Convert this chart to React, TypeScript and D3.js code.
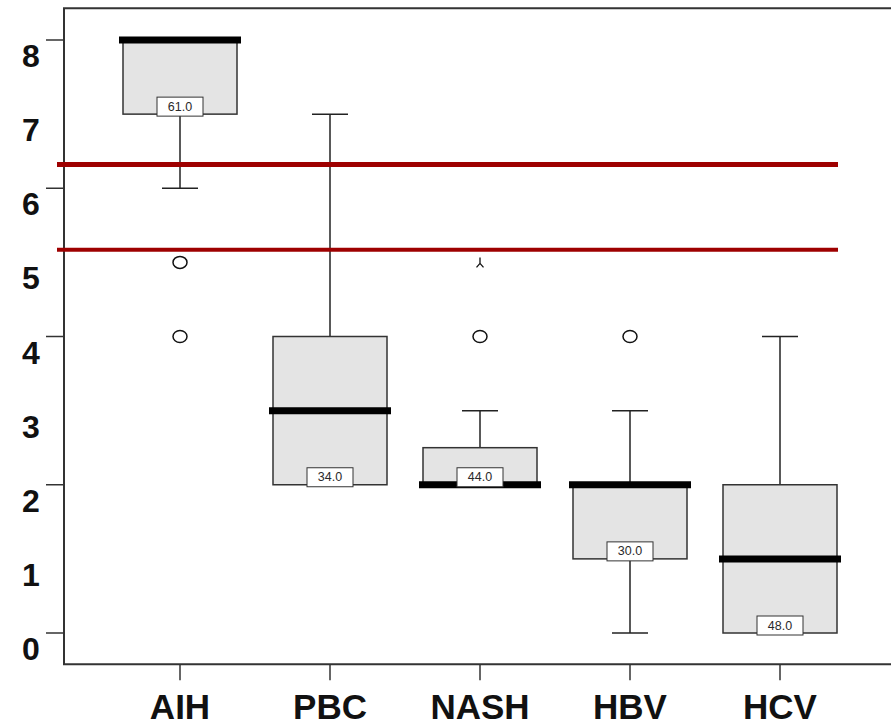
import React, { useEffect, useRef } from "react";
import * as d3 from "d3";

// diagnosis groups and box statistics
const groups = ["AIH", "PBC", "NASH", "HBV", "HCV"];
const q1 = [7, 2, 2, 1, 0];
const medians = [8, 3, 2, 2, 1];
const q3 = [8, 4, 2.5, 2, 2];
const whiskerLow = [6, 2, 2, 0, 0];
const whiskerHigh = [8, 7, 3, 3, 4];
const boxLabels = ["61.0", "34.0", "44.0", "30.0", "48.0"];

// outliers (circles) and extremes (asterisks)
const outlierGroups = ["AIH", "AIH", "NASH", "HBV"];
const outlierValues = [5, 4, 4, 4];
const extremeGroups = ["NASH"];
const extremeValues = [5];

// horizontal reference lines
const refValues = [6.32, 5.17];
const refWidths = [5, 4];

const yTickLabels = [0, 1, 2, 3, 4, 5, 6, 7, 8];
const yTickMarks = [0, 2, 4, 6, 8];

const W = 891;
const H = 724;

function BoxChart() {
  const svgRef = useRef<SVGSVGElement | null>(null);

  useEffect(() => {
    const svg = d3.select(svgRef.current);
    svg.selectAll("*").remove();

    const x = d3.scalePoint<string>().domain(groups).range([180, 780]);
    const y = d3.scaleLinear().domain([0, 8]).range([633, 40]);

    const frameLeft = 64;
    const frameTop = y(8.43);
    const frameBottom = y(-0.42);
    const boxHalf = 57;
    const medHalf = 61;
    const capHalf = 18;
    const ink = "#222";

    // frame (left, top, bottom)
    svg.append("path")
      .attr("d", `M${W + 5},${frameTop}H${frameLeft}V${frameBottom}H${W + 5}`)
      .attr("fill", "none")
      .attr("stroke", "#333")
      .attr("stroke-width", 2);

    // y ticks: marks on even values, labels on all
    svg.selectAll(".ytick")
      .data(yTickMarks)
      .join("line")
      .attr("x1", frameLeft - 18)
      .attr("x2", frameLeft)
      .attr("y1", (d) => y(d))
      .attr("y2", (d) => y(d))
      .attr("stroke", "#333")
      .attr("stroke-width", 1.5);

    svg.selectAll(".ylab")
      .data(yTickLabels)
      .join("text")
      .attr("x", 31)
      .attr("y", (d) => y(d) + 16)
      .attr("text-anchor", "middle")
      .attr("dominant-baseline", "central")
      .attr("font-family", "Liberation Sans, Arial, sans-serif")
      .attr("font-weight", "bold")
      .attr("font-size", 32)
      .attr("fill", "#111")
      .text((d) => d);

    // x ticks + labels
    svg.selectAll(".xtick")
      .data(groups)
      .join("line")
      .attr("x1", (d) => x(d)!)
      .attr("x2", (d) => x(d)!)
      .attr("y1", frameBottom)
      .attr("y2", frameBottom + 16)
      .attr("stroke", "#333")
      .attr("stroke-width", 1.5);

    svg.selectAll(".xlab")
      .data(groups)
      .join("text")
      .attr("x", (d) => x(d)!)
      .attr("y", 706)
      .attr("text-anchor", "middle")
      .attr("dominant-baseline", "central")
      .attr("font-family", "Liberation Sans, Arial, sans-serif")
      .attr("font-weight", "bold")
      .attr("font-size", 35)
      .attr("fill", "#111")
      .text((d) => d);

    const idx = d3.range(groups.length);

    // whiskers
    idx.forEach((i) => {
      const cx = x(groups[i])!;
      const g = svg.append("g");
      if (whiskerHigh[i] > q3[i]) {
        g.append("line").attr("x1", cx).attr("x2", cx)
          .attr("y1", y(q3[i])).attr("y2", y(whiskerHigh[i]))
          .attr("stroke", ink).attr("stroke-width", 1.5);
        g.append("line").attr("x1", cx - capHalf).attr("x2", cx + capHalf)
          .attr("y1", y(whiskerHigh[i])).attr("y2", y(whiskerHigh[i]))
          .attr("stroke", ink).attr("stroke-width", 1.5);
      }
      if (whiskerLow[i] < q1[i]) {
        g.append("line").attr("x1", cx).attr("x2", cx)
          .attr("y1", y(q1[i])).attr("y2", y(whiskerLow[i]))
          .attr("stroke", ink).attr("stroke-width", 1.5);
        g.append("line").attr("x1", cx - capHalf).attr("x2", cx + capHalf)
          .attr("y1", y(whiskerLow[i])).attr("y2", y(whiskerLow[i]))
          .attr("stroke", ink).attr("stroke-width", 1.5);
      }
    });

    // boxes
    svg.selectAll(".box")
      .data(idx)
      .join("rect")
      .attr("x", (i) => x(groups[i])! - boxHalf)
      .attr("y", (i) => y(q3[i]))
      .attr("width", boxHalf * 2)
      .attr("height", (i) => y(q1[i]) - y(q3[i]))
      .attr("fill", "#e4e4e4")
      .attr("stroke", "#333")
      .attr("stroke-width", 1.5);

    // medians
    svg.selectAll(".median")
      .data(idx)
      .join("line")
      .attr("x1", (i) => x(groups[i])! - medHalf)
      .attr("x2", (i) => x(groups[i])! + medHalf)
      .attr("y1", (i) => y(medians[i]))
      .attr("y2", (i) => y(medians[i]))
      .attr("stroke", "#000")
      .attr("stroke-width", 7);

    // count labels sitting on the lower hinge
    idx.forEach((i) => {
      const cx = x(groups[i])!;
      const by = y(q1[i]) + 2;
      svg.append("rect")
        .attr("x", cx - 23)
        .attr("y", by - 19)
        .attr("width", 46)
        .attr("height", 19)
        .attr("fill", "#fff")
        .attr("stroke", "#333")
        .attr("stroke-width", 1);
      svg.append("text")
        .attr("x", cx)
        .attr("y", by - 9.5)
        .attr("text-anchor", "middle")
        .attr("dominant-baseline", "central")
        .attr("font-family", "Liberation Sans, Arial, sans-serif")
        .attr("font-size", 12.5)
        .attr("fill", "#2a2a2a")
        .text(boxLabels[i]);
    });

    // outlier circles
    svg.selectAll(".outlier")
      .data(outlierValues.map((v, i) => ({ g: outlierGroups[i], v })))
      .join("ellipse")
      .attr("cx", (d) => x(d.g)!)
      .attr("cy", (d) => y(d.v))
      .attr("rx", 7)
      .attr("ry", 6)
      .attr("fill", "#fff")
      .attr("stroke", "#111")
      .attr("stroke-width", 1.5);

    // extreme asterisks
    svg.selectAll(".extreme")
      .data(extremeValues.map((v, i) => ({ g: extremeGroups[i], v })))
      .join("path")
      .attr("transform", (d) => `translate(${x(d.g)},${y(d.v)})`)
      .attr("d", "M0,-5V1M0,1L-3.5,5M0,1L3.5,5")
      .attr("fill", "none")
      .attr("stroke", "#111")
      .attr("stroke-width", 1.3);

    // reference lines
    svg.selectAll(".ref")
      .data(refValues.map((v, i) => ({ v, w: refWidths[i] })))
      .join("line")
      .attr("x1", 57)
      .attr("x2", 838)
      .attr("y1", (d) => y(d.v))
      .attr("y2", (d) => y(d.v))
      .attr("stroke", "#9e0000")
      .attr("stroke-width", (d) => d.w);
  }, []);

  return <svg ref={svgRef} width={W} height={H} style={{ display: "block", background: "#fff" }} />;
}

export default function App() {
  return (
    <div style={{ position: "absolute", left: 0, top: 0 }}>
      <BoxChart />
    </div>
  );
}
